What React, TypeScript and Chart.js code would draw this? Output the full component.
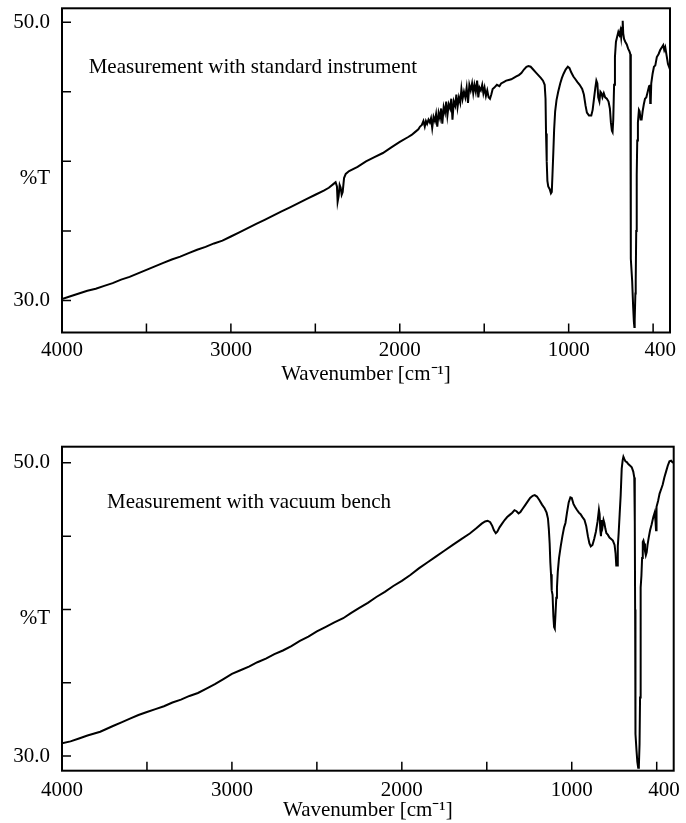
import React, { useEffect, useRef } from "react";
import { Chart, registerables } from "chart.js";

Chart.register(...registerables);

// ---------- axis ticks & labels ----------
const X_TICKS = [4000, 3500, 3000, 2500, 2000, 1500, 1000, 500];
const X_LABELED = [4000, 3000, 2000, 1000];
const X_MIN = 400;
const X_MAX = 4000;
const X_END_LABEL = "400";
const Y_TICKS = [30, 35, 40, 45, 50];
const Y_LABELED = [30, 50];
const Y_AXIS_TITLE = "%T";
const X_AXIS_TITLE = "Wavenumber [cm\u207B\u00B9]";

// ---------- top spectrum: standard instrument ----------
const TOP_NOTE = "Measurement with standard instrument";
const TOP_WN = [
  4000, 3950, 3900, 3850, 3800, 3750, 3700, 3650, 3600, 3550, 3500, 3450, 3400, 3350, 3300, 3250,
  3200, 3150, 3100, 3050, 3000, 2950, 2900, 2850, 2800, 2750, 2700, 2650, 2600, 2550, 2500, 2450,
  2420, 2390, 2380, 2372, 2368, 2362, 2356, 2350, 2344, 2338, 2330, 2320, 2300, 2250, 2200, 2150,
  2100, 2050, 2000, 1950, 1930, 1910, 1890, 1880, 1870, 1860, 1852, 1845, 1838, 1830, 1822, 1815,
  1808, 1800, 1792, 1785, 1778, 1770, 1762, 1755, 1748, 1740, 1732, 1725, 1718, 1710, 1702, 1695,
  1688, 1680, 1672, 1665, 1658, 1650, 1642, 1635, 1628, 1620, 1612, 1604, 1596, 1588, 1580, 1572,
  1565, 1558, 1550, 1542, 1535, 1528, 1520, 1512, 1505, 1498, 1490, 1482, 1474, 1466, 1458, 1450,
  1440, 1425, 1410, 1400, 1385, 1370, 1355, 1340, 1325, 1310, 1295, 1280, 1265, 1250, 1238, 1225,
  1210, 1195, 1180, 1165, 1152, 1142, 1137, 1134, 1130, 1126, 1121, 1112, 1105, 1100, 1096, 1091,
  1086, 1080, 1072, 1062, 1050, 1040, 1030, 1018, 1005, 995, 985, 972, 960, 948, 935, 920,
  910, 900, 892, 880, 866, 858, 850, 842, 836, 830, 825, 818, 812, 806, 800, 792,
  784, 774, 764, 756, 750, 744, 740, 736, 731, 726, 720, 714, 706, 700, 694, 689,
  684, 680, 677, 672, 665, 656, 648, 640, 635, 633, 632, 631, 624, 618, 614, 611,
  609, 605, 603, 600, 597, 594, 590, 584, 580, 574, 568, 562, 555, 548, 540, 532,
  524, 519, 517, 514, 511, 503, 495, 487, 478, 468, 458, 448, 440, 434, 428, 420,
  412, 406, 400,
];
const TOP_T = [
  30.1, 30.3, 30.5, 30.7, 30.85, 31.05, 31.25, 31.5, 31.7, 31.95, 32.2, 32.45, 32.7, 32.95, 33.15, 33.4,
  33.65, 33.85, 34.1, 34.3, 34.6, 34.9, 35.2, 35.5, 35.8, 36.1, 36.4, 36.7, 37.0, 37.3, 37.6, 37.9,
  38.1, 38.4, 38.5, 38.2, 37.1, 37.5, 38.3, 38.1, 37.6, 37.8, 38.8, 39.1, 39.3, 39.6, 40.0, 40.3,
  40.6, 41.0, 41.4, 41.75, 41.9, 42.1, 42.3, 42.5, 42.6, 42.9, 42.5, 42.9, 42.7, 43.0, 42.8, 43.1,
  42.4, 43.2, 42.9, 43.4, 42.5, 43.5, 43.1, 43.8, 42.7, 43.9, 43.5, 44.3, 43.3, 44.1, 43.8, 44.5,
  43.0, 44.3, 44.0, 44.8, 43.9, 44.6, 44.2, 45.2, 44.5, 45.0, 44.6, 45.3, 44.2, 45.5, 45.1, 45.6,
  44.9, 45.5, 45.0, 45.8, 44.6, 45.3, 45.1, 45.5, 44.9, 45.3, 44.7, 45.1, 44.6, 44.5, 44.8, 45.2,
  45.3, 45.5, 45.4, 45.6, 45.7, 45.8, 45.85, 45.9, 46.0, 46.1, 46.2, 46.35, 46.6, 46.8, 46.85, 46.8,
  46.6, 46.4, 46.2, 46.0, 45.8, 45.5, 44.5, 42.0, 40.0, 38.6, 38.2, 38.0, 37.7, 37.8, 39.0, 40.6,
  42.3, 43.6, 44.4, 45.0, 45.6, 46.0, 46.3, 46.6, 46.8, 46.7, 46.4, 46.1, 45.9, 45.7, 45.5, 45.2,
  44.8, 44.0, 43.5, 43.3, 43.3, 43.7, 44.5, 45.3, 45.8, 45.6, 44.6, 44.3, 45.0, 44.9, 44.6, 44.9,
  44.6, 44.5, 44.3, 43.8, 42.8, 42.2, 42.1, 43.0, 45.5, 47.5, 48.6, 48.9, 49.3, 49.1, 49.4, 48.9,
  49.6, 50.1, 49.2, 48.8, 48.6, 48.4, 48.1, 47.9, 47.7, 46.0, 40.0, 33.0, 31.4, 29.5, 28.5, 28.1,
  28.6, 30.5, 31.4, 35.0, 39.0, 41.5, 42.8, 43.7, 43.6, 43.0, 43.0, 43.6, 44.1, 44.5, 44.6, 45.0,
  45.4, 45.5, 44.2, 44.3, 45.6, 46.3, 46.8, 46.9, 47.5, 47.7, 48.0, 48.2, 48.35, 48.0, 48.2, 47.6,
  47.0, 46.8, 46.6,
];

// ---------- bottom spectrum: vacuum bench ----------
const BOTTOM_NOTE = "Measurement with vacuum bench";
const BOTTOM_WN = [
  4000, 3950, 3900, 3850, 3775, 3700, 3650, 3600, 3550, 3500, 3450, 3400, 3350, 3300, 3250, 3200,
  3150, 3100, 3050, 3000, 2950, 2900, 2850, 2800, 2750, 2700, 2650, 2600, 2550, 2500, 2450, 2400,
  2345, 2300, 2250, 2200, 2150, 2100, 2050, 2000, 1950, 1900, 1850, 1800, 1750, 1700, 1650, 1600,
  1560, 1530, 1510, 1495, 1480, 1468, 1458, 1447, 1438, 1425, 1410, 1395, 1380, 1365, 1350, 1337,
  1325, 1313, 1302, 1290, 1275, 1260, 1245, 1230, 1218, 1205, 1190, 1175, 1160, 1148, 1140, 1135,
  1130, 1126, 1122, 1118, 1113, 1108, 1104, 1100, 1096, 1091, 1087, 1082, 1075, 1065, 1055, 1045,
  1037, 1028, 1018, 1008, 1000, 990, 981, 970, 958, 948, 937, 925, 915, 905, 896, 888,
  878, 868, 858, 848, 840, 836, 832, 828, 823, 818, 813, 808, 802, 796, 788, 778,
  768, 758, 748, 742, 738, 733, 729, 724, 718, 712, 706, 700, 696, 690, 684, 676,
  666, 656, 647, 638, 632, 630, 628, 627, 626, 624, 619, 614, 609, 605, 601, 598,
  596, 593, 590, 586, 582, 578, 574, 569, 564, 559, 554, 547, 539, 530, 520, 512,
  507, 504, 502, 500, 492, 483, 474, 465, 455, 445, 435, 425, 415, 408, 400,
];
const BOTTOM_T = [
  30.87, 31.0, 31.2, 31.4, 31.66, 32.05, 32.3, 32.55, 32.8, 33.0, 33.2, 33.4, 33.65, 33.85, 34.1, 34.3,
  34.6, 34.9, 35.25, 35.6, 35.85, 36.1, 36.4, 36.65, 36.95, 37.2, 37.5, 37.85, 38.15, 38.5, 38.8, 39.1,
  39.4, 39.75, 40.1, 40.45, 40.85, 41.2, 41.6, 41.95, 42.35, 42.8, 43.2, 43.6, 44.0, 44.4, 44.8, 45.18,
  45.55, 45.85, 46.0, 46.05, 45.95, 45.7, 45.4, 45.2, 45.3, 45.6, 45.85, 46.1, 46.3, 46.45, 46.6, 46.77,
  46.7, 46.55, 46.65, 46.85, 47.1, 47.35, 47.6, 47.75, 47.8, 47.7, 47.45, 47.15, 46.9, 46.6, 46.2, 45.5,
  44.5, 43.2, 42.4, 41.3, 41.0, 39.5, 38.8, 38.7, 39.6, 40.8, 41.5, 42.6, 43.5, 44.3, 45.0, 45.6,
  45.9, 46.6, 47.3, 47.64, 47.6, 47.2, 47.0, 46.8, 46.6, 46.5, 46.3, 46.1, 45.7, 45.0, 44.5, 44.3,
  44.4, 44.8, 45.3, 46.0, 46.8, 46.5, 45.4, 45.0, 46.1, 45.7, 46.1, 45.9, 45.5, 45.2, 45.1, 44.9,
  44.8, 44.7, 44.4, 43.8, 43.0, 43.0, 44.3, 45.2, 46.5, 47.8, 49.6, 50.2, 50.41, 50.25, 50.1, 50.05,
  49.9, 49.8, 49.7, 49.4, 49.0, 48.4, 46.0, 40.0, 35.0, 31.5, 30.4, 29.6, 29.2, 29.3, 30.8, 34.0,
  38.5, 41.5, 42.3, 43.5, 44.6, 44.7, 44.5, 44.0, 43.7, 43.9, 44.4, 44.9, 45.4, 45.8, 46.3, 46.6,
  46.0, 45.4, 45.8, 47.0, 47.4, 47.9, 48.2, 48.5, 49.0, 49.4, 49.8, 50.1, 50.15, 50.05, 50.0,
];

const FONT_FAMILY = '"Liberation Serif", "Times New Roman", serif';
const FONT_SIZE = 21;

type PanelConfig = {
  wn: number[];
  t: number[];
  yMin: number;
  yMax: number;
  note: string;
  noteWn: number;
  noteT: number;
  pctOffset: number;
  top: number;
  height: number;
  padTop: number;
  padRight: number;
  xAxisHeight: number;
  xTickPadding: number;
};

const PANELS: PanelConfig[] = [
  {
    wn: TOP_WN,
    t: TOP_T,
    yMin: 27.7,
    yMax: 51.0,
    note: TOP_NOTE,
    noteWn: 3842,
    noteT: 46.38,
    pctOffset: 17,
    top: 0,
    height: 387,
    padTop: 8.3,
    padRight: 16,
    xAxisHeight: 54.5,
    xTickPadding: 5,
  },
  {
    wn: BOTTOM_WN,
    t: BOTTOM_T,
    yMin: 29.0,
    yMax: 51.1,
    note: BOTTOM_NOTE,
    noteWn: 3735,
    noteT: 46.89,
    pctOffset: 9,
    top: 430,
    height: 393,
    padTop: 16.7,
    padRight: 12.3,
    xAxisHeight: 52.3,
    xTickPadding: 7,
  },
];

const framePlugin = {
  id: "frame",
  afterDraw(chart: any, _args: any, opts: any) {
    const { ctx, chartArea: a, scales } = chart;
    const x = scales.x;
    const y = scales.y;
    ctx.save();
    ctx.strokeStyle = "#000";
    ctx.lineWidth = 2;
    ctx.strokeRect(a.left, a.top, a.right - a.left, a.bottom - a.top);
    ctx.lineWidth = 1.5;
    ctx.beginPath();
    X_TICKS.forEach((v) => {
      const px = x.getPixelForValue(v);
      ctx.moveTo(px, a.bottom);
      ctx.lineTo(px, a.bottom - 9);
    });
    Y_TICKS.forEach((v) => {
      const py = y.getPixelForValue(v);
      ctx.moveTo(a.left, py);
      ctx.lineTo(a.left + 9, py);
    });
    ctx.stroke();

    ctx.fillStyle = "#000";
    ctx.font = `${FONT_SIZE}px ${FONT_FAMILY}`;
    // %T label
    ctx.textAlign = "right";
    ctx.textBaseline = "middle";
    ctx.fillText(Y_AXIS_TITLE, a.left - 12, y.getPixelForValue(40) + opts.pctOffset);

    // end label "400" kept inside the frame, aligned with other x tick labels
    let ly = a.bottom + 17;
    let baseline = "middle";
    try {
      const items = x.getLabelItems();
      const it = items.find((i: any) => i.label === String(X_LABELED[0]));
      if (it) {
        ly = it.options.translation[1] + (it.textOffset || 0);
        baseline = it.options.textBaseline || "middle";
      }
    } catch (e) {
      /* ignore */
    }
    ctx.textBaseline = baseline;
    ctx.textAlign = "right";
    ctx.fillText(X_END_LABEL, x.getPixelForValue(X_MIN) + 6, ly);

    // annotation
    ctx.textAlign = "left";
    ctx.textBaseline = "alphabetic";
    ctx.fillText(opts.note, x.getPixelForValue(opts.noteWn), y.getPixelForValue(opts.noteT));
    ctx.restore();
  },
};

function Panel({ cfg }: { cfg: PanelConfig }) {
  const ref = useRef<HTMLCanvasElement>(null);
  useEffect(() => {
    const canvas = ref.current!;
    const chart = new Chart(canvas, {
      type: "line",
      data: {
        datasets: [
          {
            data: cfg.wn.map((w, i) => ({ x: w, y: cfg.t[i] })),
            borderColor: "#000",
            borderWidth: 2,
            pointRadius: 0,
            tension: 0,
            fill: false,
          },
        ],
      },
      options: {
        animation: false,
        responsive: false,
        parsing: false as any,
        normalized: true,
        layout: { padding: { top: cfg.padTop, right: cfg.padRight, left: 0, bottom: 0 } },
        plugins: {
          legend: { display: false },
          tooltip: { enabled: false },
          frame: {
            pctOffset: cfg.pctOffset,
            note: cfg.note,
            noteWn: cfg.noteWn,
            noteT: cfg.noteT,
          },
        } as any,
        scales: {
          x: {
            type: "linear",
            reverse: true,
            min: X_MIN,
            max: X_MAX,
            grid: { display: false, drawTicks: false },
            border: { display: false },
            afterBuildTicks: (s: any) => {
              s.ticks = X_TICKS.map((v) => ({ value: v }));
            },
            afterFit: (s: any) => {
              s.height = cfg.xAxisHeight;
              s.paddingLeft = 0;
              s.paddingRight = 0;
            },
            ticks: {
              autoSkip: false,
              maxRotation: 0,
              minRotation: 0,
              padding: cfg.xTickPadding,
              color: "#000",
              font: { family: FONT_FAMILY, size: FONT_SIZE },
              callback: (v: any) => (X_LABELED.includes(Number(v)) ? String(v) : ""),
            },
            title: {
              display: true,
              text: X_AXIS_TITLE,
              color: "#000",
              font: { family: FONT_FAMILY, size: FONT_SIZE },
              padding: 0,
            },
          },
          y: {
            type: "linear",
            min: cfg.yMin,
            max: cfg.yMax,
            grid: { display: false, drawTicks: false },
            border: { display: false },
            afterBuildTicks: (s: any) => {
              s.ticks = Y_TICKS.map((v) => ({ value: v }));
            },
            afterFit: (s: any) => {
              s.width = 62;
              s.paddingTop = 0;
              s.paddingBottom = 0;
            },
            ticks: {
              autoSkip: false,
              padding: 12,
              color: "#000",
              font: { family: FONT_FAMILY, size: FONT_SIZE },
              callback: (v: any) => (Y_LABELED.includes(Number(v)) ? Number(v).toFixed(1) : ""),
            },
          },
        },
      },
      plugins: [framePlugin],
    });
    return () => chart.destroy();
  }, [cfg]);
  return (
    <div style={{ position: "absolute", left: 0, top: cfg.top, width: 686, height: cfg.height }}>
      <canvas ref={ref} width={686} height={cfg.height} style={{ width: 686, height: cfg.height, display: "block" }} />
    </div>
  );
}

export default function App() {
  return (
    <div style={{ position: "absolute", left: 0, top: 0, width: 686, height: 823, background: "#fff" }}>
      {PANELS.map((p, i) => (
        <Panel key={i} cfg={p} />
      ))}
    </div>
  );
}
